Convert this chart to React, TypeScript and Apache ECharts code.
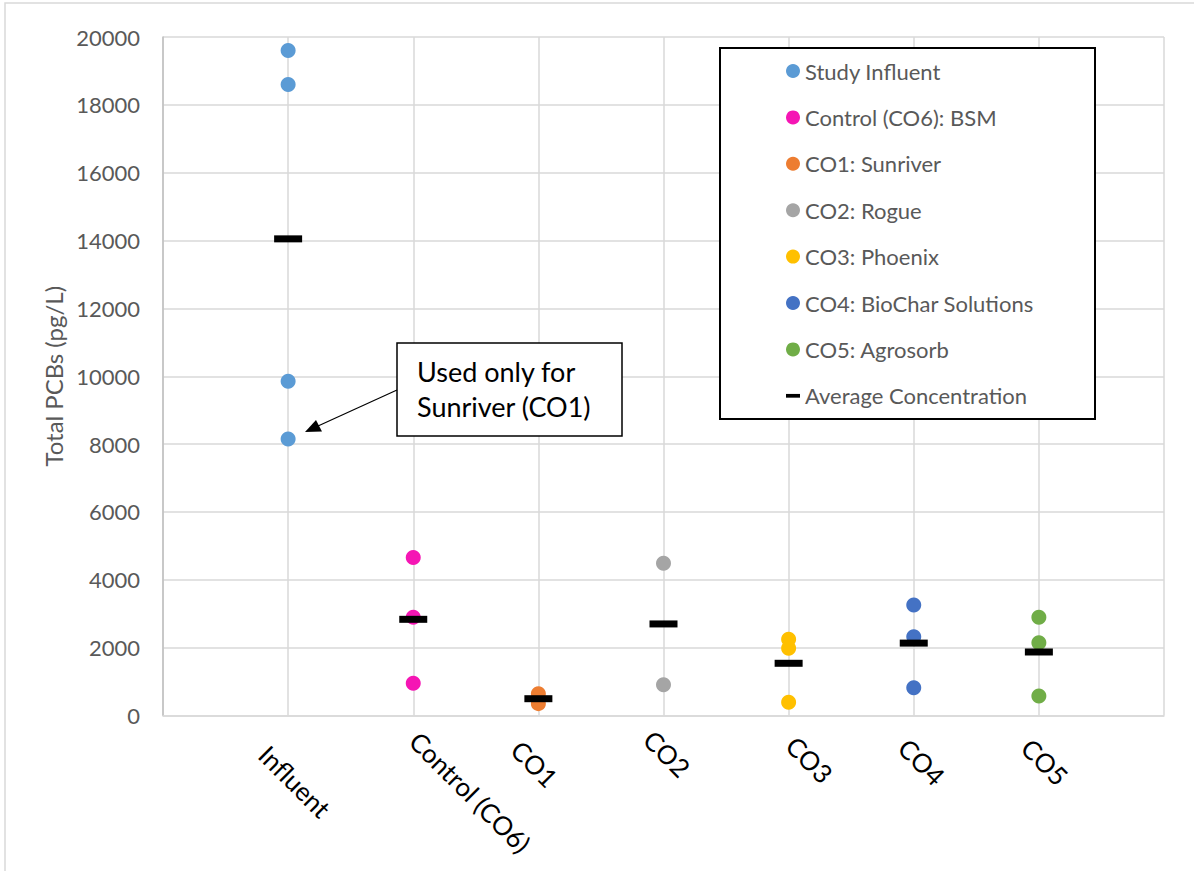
import React, { useEffect, useRef } from "react";
import * as echarts from "echarts";

const categories = ["Influent", "Control (CO6)", "CO1", "CO2", "CO3", "CO4", "CO5"];
const yTicks = { min: 0, max: 20000, interval: 2000 };

const studyInfluent = [19600, 18600, 9850, 8150];
const controlBSM = [4660, 2895, 950];
const co1Sunriver = [640, 350];
const co2Rogue = [4490, 908];
const co3Phoenix = [2246, 1981, 389];
const co4BioChar = [3258, 2323, 820];
const co5Agrosorb = [2895, 2146, 575];
const averages = [14050, 2835, 495, 2699, 1539, 2134, 1872];

const seriesNames = [
  "Study Influent",
  "Control (CO6): BSM",
  "CO1: Sunriver",
  "CO2: Rogue",
  "CO3: Phoenix",
  "CO4: BioChar Solutions",
  "CO5: Agrosorb",
];
const seriesValues = [studyInfluent, controlBSM, co1Sunriver, co2Rogue, co3Phoenix, co4BioChar, co5Agrosorb];
const seriesColors = ["#5B9BD5", "#F516B4", "#ED7D31", "#A5A5A5", "#FFC000", "#4472C4", "#70AD47"];
const avgName = "Average Concentration";

// label nudges [top, right, bottom, left] per category (Excel-like placement)
const labelPad = [
  [84, 0, 0, 103],
  [28, 0, 0, 189],
  [74, 0, 0, 63],
  [49, 0, 0, 59],
  [33, 0, 0, 92],
  [54, 0, 0, 77],
  [57, 0, 0, 74],
];

const FONT = "Lato";

export default function App() {
  const ref = useRef<HTMLDivElement>(null);
  useEffect(() => {
    const chart = echarts.init(ref.current!, null, { renderer: "svg" });
    const rich: any = {};
    labelPad.forEach((p, i) => {
      rich["c" + i] = { padding: p, fontSize: 26, fontFamily: FONT, color: "#000" };
    });
    const scatterSeries = seriesNames.map((name, si) => ({
      name,
      type: "scatter",
      symbol: "circle",
      symbolSize: 15,
      itemStyle: { color: seriesColors[si], opacity: 1 },
      z: 3,
      data: seriesValues[si].map((v) => [si + 1, v]),
    }));
    const avgSeries = {
      name: avgName,
      type: "scatter",
      symbol: "rect",
      symbolSize: [28, 7],
      itemStyle: { color: "#000", opacity: 1 },
      z: 5,
      data: averages.map((v, i) => [i + 1, v]),
    };
    chart.setOption({
      animation: false,
      backgroundColor: "#fff",
      textStyle: { fontFamily: FONT },
      grid: { left: 163, right: 30, top: 37, bottom: 155.5 },
      xAxis: {
        type: "value",
        min: 0,
        max: 8,
        interval: 1,
        axisLine: { show: true, lineStyle: { color: "#d9d9d9", width: 1.5 } },
        axisTick: { show: false },
        splitLine: { show: true, lineStyle: { color: "#d9d9d9", width: 1.5 } },
        axisLabel: {
          show: true,
          rotate: -45,
          margin: 0,
          align: "center",
          verticalAlign: "middle",
          showMinLabel: true,
          showMaxLabel: true,
          formatter: (v: number) => {
            const i = Math.round(v) - 1;
            if (Math.abs(v - Math.round(v)) > 1e-6 || i < 0 || i >= categories.length) return "";
            return `{c${i}|${categories[i]}}`;
          },
          rich,
        },
      },
      yAxis: {
        type: "value",
        min: yTicks.min,
        max: yTicks.max,
        interval: yTicks.interval,
        name: "Total PCBs (pg/L)",
        nameLocation: "middle",
        nameRotate: 90,
        nameGap: 94,
        nameTextStyle: { fontSize: 24, color: "#595959", fontFamily: FONT },
        axisLine: { show: true, lineStyle: { color: "#bfbfbf", width: 1.5 } },
        axisTick: { show: false },
        splitLine: { show: true, lineStyle: { color: "#d9d9d9", width: 1.5 } },
        axisLabel: {
          fontSize: 22,
          color: "#595959",
          margin: 23,
          fontFamily: FONT,
          formatter: (v: number) => String(v),
        },
      },
      legend: {
        orient: "vertical",
        left: 786,
        top: 59,
        padding: 0,
        itemWidth: 14,
        itemHeight: 14,
        itemGap: 22.4,
        itemStyle: { opacity: 1 },
        textStyle: { fontSize: 22, color: "#595959", fontFamily: FONT, lineHeight: 24 },
        data: [
          ...seriesNames.map((n) => ({ name: n, icon: "circle" })),
          { name: avgName, icon: "path://M0,0h15v4h-15z" },
        ],
      },
      graphic: [
        {
          type: "rect",
          z: -10,
          silent: true,
          shape: { x: 5, y: 3, width: 1220, height: 900 },
          style: { fill: "none", stroke: "#d9d9d9", lineWidth: 1.5 },
        },
        {
          type: "rect",
          z: 3,
          shape: { x: 720, y: 48, width: 375, height: 371 },
          style: { fill: "#fff", stroke: "#000", lineWidth: 2 },
        },
        {
          type: "rect",
          z: 3,
          shape: { x: 397, y: 343, width: 225, height: 93 },
          style: { fill: "#fff", stroke: "#000", lineWidth: 1.5 },
        },
        {
          type: "text",
          z: 4,
          x: 417,
          y: 354,
          style: {
            text: "Used only for\nSunriver (CO1)",
            fontSize: 27,
            lineHeight: 35,
            fontFamily: FONT,
            fill: "#000",
          },
        },
        {
          type: "line",
          z: 4,
          shape: { x1: 397, y1: 390, x2: 318, y2: 426 },
          style: { stroke: "#000", lineWidth: 1.2 },
        },
        {
          type: "polygon",
          z: 4,
          shape: { points: [[305, 432], [322, 431.5], [316, 420]] },
          style: { fill: "#000" },
        },
      ],
      series: [...scatterSeries, avgSeries],
    });
    return () => chart.dispose();
  }, []);
  return (
    <div
      ref={ref}
      style={{ position: "fixed", left: 0, top: 0, width: 1194, height: 871, background: "#fff" }}
    />
  );
}
